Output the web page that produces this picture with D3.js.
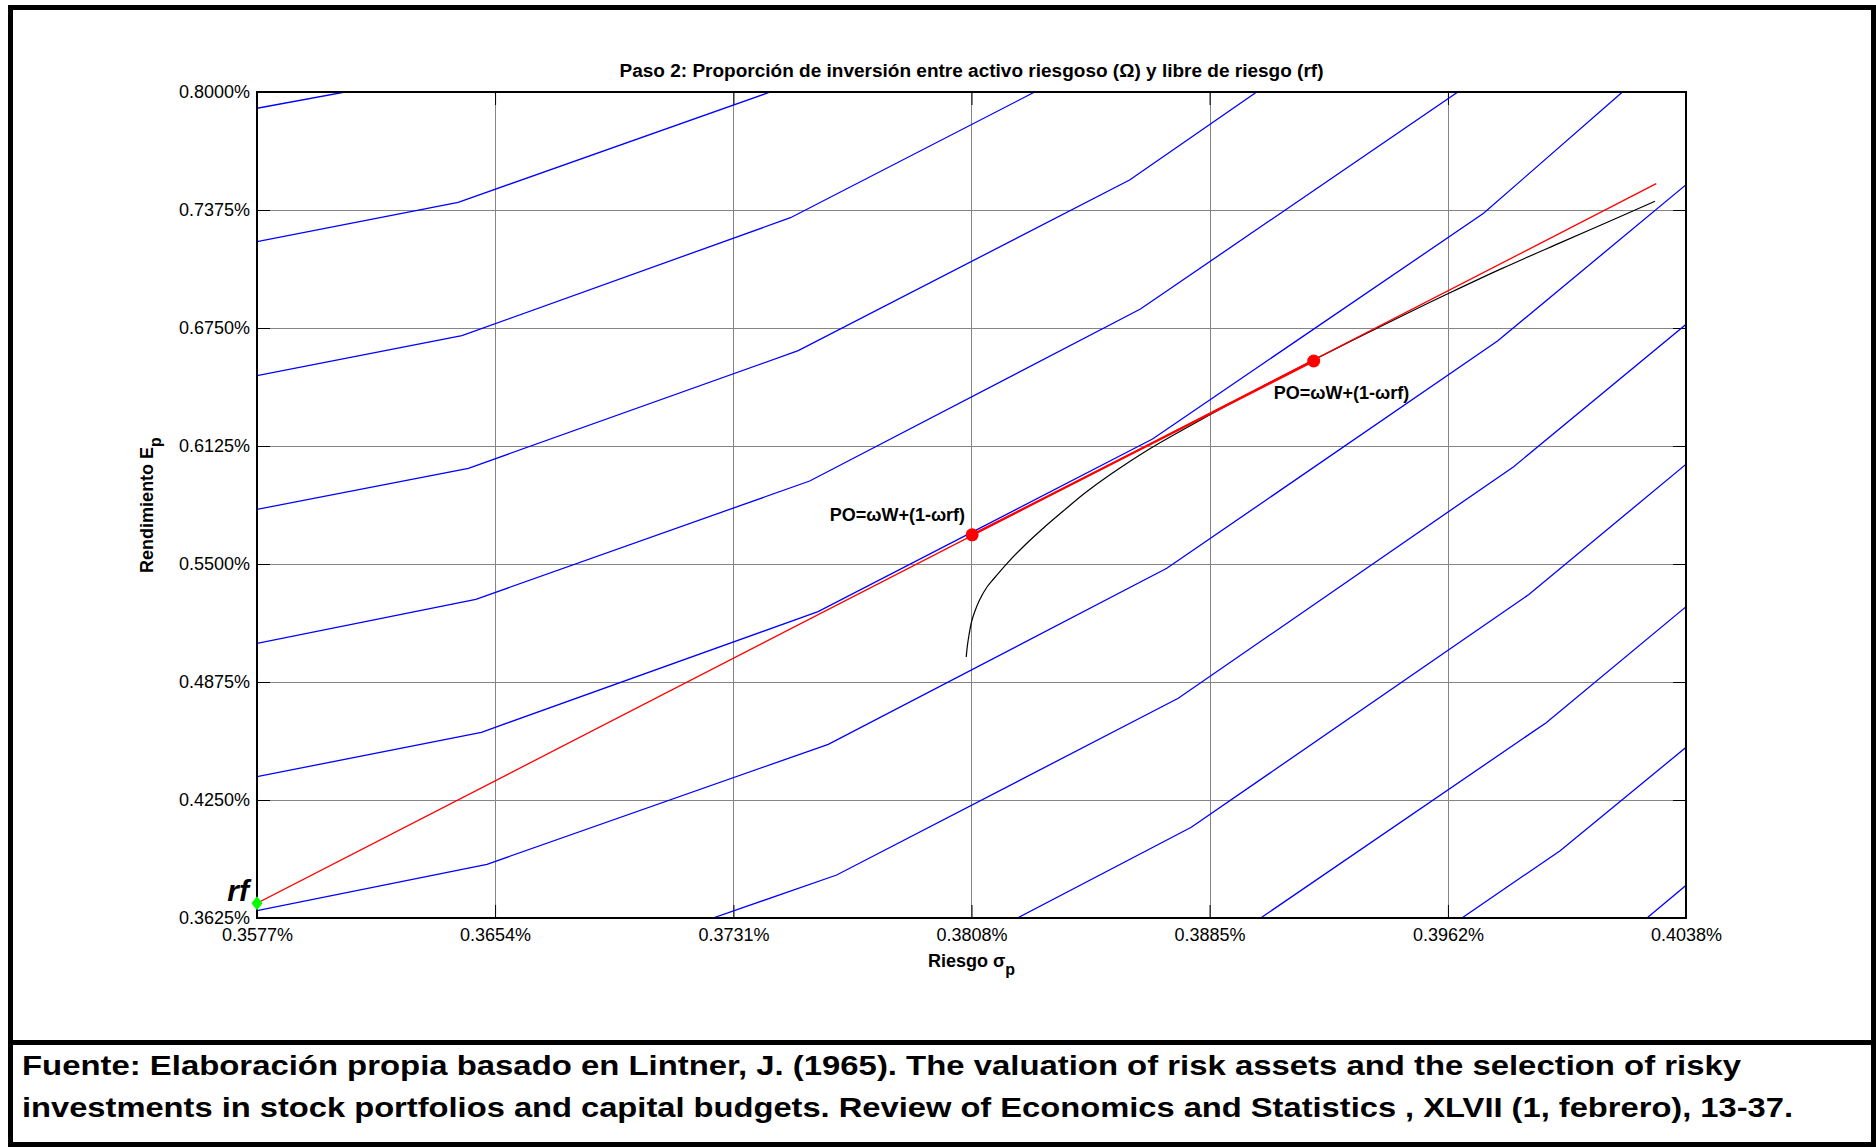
<!DOCTYPE html>
<html>
<head>
<meta charset="utf-8">
<script src="https://cdn.jsdelivr.net/npm/d3@7"></script>
<style>
  html, body { margin: 0; padding: 0; background: #fff; }
  svg { display: block; }
  text { font-family: "Liberation Sans", Arial, Helvetica, sans-serif; }
</style>
</head>
<body>
<svg id="chart" width="1876" height="1147"></svg>
<script>
// ---- axes ----
const xTickValues = [0.35770, 0.36538, 0.37307, 0.38075, 0.38843, 0.39612, 0.40380];
const xTickLabels = ["0.3577%", "0.3654%", "0.3731%", "0.3808%", "0.3885%", "0.3962%", "0.4038%"];
const yTickValues = [0.3625, 0.4250, 0.4875, 0.5500, 0.6125, 0.6750, 0.7375, 0.8000];
const yTickLabels = ["0.3625%", "0.4250%", "0.4875%", "0.5500%", "0.6125%", "0.6750%", "0.7375%", "0.8000%"];

// ---- indifference curves [sigma %, return %] ----
const u1  = [[0.35770, 0.79140], [0.36054, 0.80000]];
const u2  = [[0.35770, 0.72071], [0.36419, 0.74158], [0.37426, 0.80000]];
const u3  = [[0.35770, 0.64974], [0.36431, 0.67092], [0.37491, 0.73342], [0.38279, 0.80000]];
const u4  = [[0.35770, 0.57897], [0.36452, 0.60069], [0.37516, 0.66298], [0.38585, 0.75339], [0.38995, 0.80000]];
const u5  = [[0.35770, 0.50800], [0.36476, 0.53130], [0.37553, 0.59396], [0.38620, 0.68506], [0.39644, 0.80000]];
const u6  = [[0.35770, 0.43734], [0.36494, 0.46086], [0.37580, 0.52474], [0.38659, 0.61621], [0.39727, 0.73575], [0.40175, 0.80000]];
const u7  = [[0.35770, 0.36637], [0.36512, 0.39094], [0.37613, 0.45450], [0.38705, 0.54772], [0.39772, 0.66811], [0.40383, 0.75127]];
const u8  = [[0.37241, 0.36250], [0.37640, 0.38528], [0.38742, 0.47887], [0.39824, 0.60154], [0.40383, 0.67733]];
const u9  = [[0.38223, 0.36250], [0.38784, 0.41054], [0.39873, 0.53384], [0.40383, 0.60323]];
const u10 = [[0.39008, 0.36250], [0.39929, 0.46594], [0.40383, 0.52775]];
const u11 = [[0.39657, 0.36250], [0.39974, 0.39815], [0.40383, 0.45328]];
const u12 = [[0.40254, 0.36250], [0.40383, 0.38024]];
const indifferenceCurves = [u1, u2, u3, u4, u5, u6, u7, u8, u9, u10, u11, u12];

// ---- efficient frontier of risky assets ----
const frontier = [
  [0.38058, 0.50074], [0.38062, 0.50710], [0.38067, 0.51239], [0.38075, 0.51928],
  [0.38085, 0.52458], [0.38101, 0.53093], [0.38125, 0.53782], [0.38146, 0.54205],
  [0.38190, 0.55037], [0.38242, 0.55916], [0.38309, 0.56933], [0.38377, 0.57887],
  [0.38443, 0.58782], [0.38524, 0.59751], [0.38653, 0.61133], [0.38847, 0.62929],
  [0.38976, 0.64073], [0.39179, 0.65805], [0.39460, 0.68109], [0.39615, 0.69338],
  [0.39787, 0.70657], [0.39981, 0.72060], [0.40128, 0.73114], [0.40280, 0.74211]
];

// ---- risk-free asset, capital line and optimal portfolios ----
const riskFree = [0.35770, 0.37029];
const capitalLine = [[0.35770, 0.37029], [0.40284, 0.75143]];
const optimalPoints = [[0.38077, 0.56547], [0.39179, 0.65752]];
const optimalLabels = ["PO=\u03C9W+(1-\u03C9rf)", "PO=\u03C9W+(1-\u03C9rf)"];

const titleText = "Paso 2: Proporción de inversión entre activo riesgoso (\u03A9) y libre de riesgo (rf)";
const sourceLines = [
  "Fuente: Elaboración propia basado en Lintner, J. (1965). The valuation of risk assets and the selection of risky",
  "investments in stock portfolios and capital budgets. Review of Economics and Statistics , XLVII (1, febrero), 13-37."
];

// ---- layout ----
const svg = d3.select("#chart");
const plot = { left: 257, right: 1686, top: 92, bottom: 918 };

svg.append("rect").attr("width", 1876).attr("height", 1147).attr("fill", "#fff");

const x = d3.scaleLinear().domain([xTickValues[0], xTickValues[xTickValues.length - 1]]).range([plot.left, plot.right]);
const y = d3.scaleLinear().domain([0.3625, 0.8000]).range([plot.bottom, plot.top]);

svg.append("defs").append("clipPath").attr("id", "plotClip")
  .append("rect")
  .attr("x", plot.left).attr("y", plot.top)
  .attr("width", plot.right - plot.left).attr("height", plot.bottom - plot.top);

// grid
const grid = svg.append("g").attr("stroke", "#858585").attr("stroke-width", 1);
grid.selectAll("line.gx").data(xTickValues.slice(1, -1)).join("line")
  .attr("x1", d => Math.round(x(d)) + 0.5).attr("x2", d => Math.round(x(d)) + 0.5)
  .attr("y1", plot.top).attr("y2", plot.bottom);
grid.selectAll("line.gy").data(yTickValues.slice(1, -1)).join("line")
  .attr("y1", d => Math.round(y(d)) + 0.5).attr("y2", d => Math.round(y(d)) + 0.5)
  .attr("x1", plot.left).attr("x2", plot.right);

// axes with inward ticks on all four sides
const tickLen = 13;
const bottomAxis = d3.axisBottom(x).tickValues(xTickValues).tickFormat((d, i) => xTickLabels[i])
  .tickSizeInner(-tickLen).tickSizeOuter(0).tickPadding(10);
const leftAxis = d3.axisLeft(y).tickValues(yTickValues).tickFormat((d, i) => yTickLabels[i])
  .tickSizeInner(-tickLen).tickSizeOuter(0).tickPadding(7);
const topAxis = d3.axisTop(x).tickValues(xTickValues).tickFormat("").tickSizeInner(-tickLen).tickSizeOuter(0);
const rightAxis = d3.axisRight(y).tickValues(yTickValues).tickFormat("").tickSizeInner(-tickLen).tickSizeOuter(0);

function styleAxis(g) {
  g.select(".domain").remove();
  g.selectAll(".tick line").attr("stroke", "#000").attr("stroke-width", 1);
  g.selectAll(".tick text").attr("fill", "#000").attr("font-size", 18)
    .attr("font-family", "'Liberation Sans', Arial, sans-serif");
}
svg.append("g").attr("transform", `translate(0,${plot.bottom})`).call(bottomAxis).call(styleAxis);
svg.append("g").attr("transform", `translate(${plot.left},0)`).call(leftAxis).call(styleAxis);
svg.append("g").attr("transform", `translate(0,${plot.top})`).call(topAxis).call(styleAxis);
svg.append("g").attr("transform", `translate(${plot.right},0)`).call(rightAxis).call(styleAxis);

// data layer
const lineGen = d3.line().x(d => x(d[0])).y(d => y(d[1]));
const smoothGen = d3.line().x(d => x(d[0])).y(d => y(d[1])).curve(d3.curveCatmullRom.alpha(0.5));
const layer = svg.append("g").attr("clip-path", "url(#plotClip)");

layer.selectAll("path.indiff").data(indifferenceCurves).join("path")
  .attr("class", "indiff")
  .attr("d", lineGen)
  .attr("fill", "none").attr("stroke", "#0000ff").attr("stroke-width", 1.3);

layer.append("path").datum(frontier)
  .attr("d", smoothGen)
  .attr("fill", "none").attr("stroke", "#000").attr("stroke-width", 1.2);

layer.append("path").datum(capitalLine)
  .attr("d", lineGen)
  .attr("fill", "none").attr("stroke", "#ff0000").attr("stroke-width", 1.3);

layer.append("path").datum(optimalPoints)
  .attr("d", lineGen)
  .attr("fill", "none").attr("stroke", "#ff0000").attr("stroke-width", 2.2);

// axis box
svg.append("rect")
  .attr("x", plot.left).attr("y", plot.top)
  .attr("width", plot.right - plot.left).attr("height", plot.bottom - plot.top)
  .attr("fill", "none").attr("stroke", "#000").attr("stroke-width", 2);

// markers
svg.selectAll("circle.opt").data(optimalPoints).join("circle")
  .attr("class", "opt")
  .attr("cx", d => x(d[0])).attr("cy", d => y(d[1]))
  .attr("r", 6.5).attr("fill", "#ff0000");

const rfX = x(riskFree[0]), rfY = y(riskFree[1]);
svg.append("path")
  .attr("d", `M${rfX},${rfY - 7} L${rfX + 5.5},${rfY} L${rfX},${rfY + 7} L${rfX - 5.5},${rfY} Z`)
  .attr("fill", "#00ff00");

svg.append("text")
  .attr("x", rfX - 8).attr("y", rfY - 2)
  .attr("text-anchor", "end")
  .attr("font-family", "'Liberation Serif', 'Times New Roman', serif")
  .attr("font-style", "italic").attr("font-weight", "bold")
  .attr("font-size", 30)
  .text("rf");

// labels of the optimal portfolios
const labelOffsets = [[-7, -14, "end"], [-40, 38, "start"]];
svg.selectAll("text.opt").data(optimalPoints).join("text")
  .attr("class", "opt")
  .attr("x", (d, i) => x(d[0]) + labelOffsets[i][0])
  .attr("y", (d, i) => y(d[1]) + labelOffsets[i][1])
  .attr("text-anchor", (d, i) => labelOffsets[i][2])
  .attr("font-size", 18).attr("font-weight", "bold")
  .text((d, i) => optimalLabels[i]);

// title and axis titles
svg.append("text")
  .attr("x", (plot.left + plot.right) / 2).attr("y", 77)
  .attr("text-anchor", "middle").attr("font-size", 18).attr("font-weight", "bold")
  .attr("textLength", 704).attr("lengthAdjust", "spacingAndGlyphs")
  .text(titleText);

const xTitle = svg.append("text")
  .attr("x", (plot.left + plot.right) / 2).attr("y", 967)
  .attr("text-anchor", "middle").attr("font-size", 18).attr("font-weight", "bold");
xTitle.append("tspan").text("Riesgo \u03C3");
xTitle.append("tspan").attr("dy", 8).attr("font-size", 16).text("p");

const yTitle = svg.append("text")
  .attr("transform", `translate(153,${(plot.top + plot.bottom) / 2}) rotate(-90)`)
  .attr("text-anchor", "middle").attr("font-size", 18).attr("font-weight", "bold");
yTitle.append("tspan").text("Rendimiento E");
yTitle.append("tspan").attr("dy", 8).attr("font-size", 16).text("p");

// source note
const sourceWidths = [1719, 1771];
svg.selectAll("text.source").data(sourceLines).join("text")
  .attr("class", "source")
  .attr("x", 22).attr("y", (d, i) => 1075 + i * 42)
  .attr("font-size", 28).attr("font-weight", "bold")
  .attr("textLength", (d, i) => sourceWidths[i]).attr("lengthAdjust", "spacingAndGlyphs")
  .text(d => d);

// frame
svg.append("rect")
  .attr("x", 10.5).attr("y", 7.5).attr("width", 1863).attr("height", 1137)
  .attr("fill", "none").attr("stroke", "#000").attr("stroke-width", 5);
svg.append("line")
  .attr("x1", 8).attr("x2", 1876).attr("y1", 1042.5).attr("y2", 1042.5)
  .attr("stroke", "#000").attr("stroke-width", 5);
</script>
</body>
</html>
